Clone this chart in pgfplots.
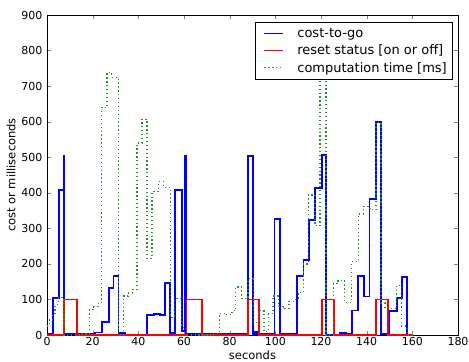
\documentclass[border=0pt]{standalone}
\usepackage{fontspec}
\setmainfont{DejaVu Sans}
\usepackage{pgfplots}
\pgfplotsset{compat=1.18}
\definecolor{mgreen}{rgb}{0,0.5,0}
\pgfplotsset{
  mylegimg/.style={legend image code/.code={\path (0bp,0bp); \draw[##1] plot coordinates {(5bp,0bp) (14.5bp,0bp) (24bp,0bp)};}}
}
\begin{document}
\begin{tikzpicture}[font=\fontsize{11bp}{13bp}\selectfont]
\begin{axis}[
  scale only axis, width=411bp, height=320bp,
  xmin=0, xmax=180, ymin=0, ymax=900,
  xtick={0,20,...,180}, ytick={0,100,...,900},
  tick align=inside, major tick length=4bp,
  xtick pos=both, ytick pos=both,
  /pgf/number format/assume math mode=true,
  tick label style={font=\fontsize{11bp}{13bp}\selectfont},
  xticklabel style={yshift=1bp},
  yticklabel style={xshift=-1bp},
  xlabel={seconds}, ylabel={cost or milliseconds},
  label style={font=\fontsize{11.5bp}{13bp}\selectfont},
  xlabel style={yshift=2bp},
  ylabel style={yshift=-1bp},
  legend style={at={(1,1)}, anchor=north east, xshift=-6bp, yshift=-7bp,
    draw=black, font=\fontsize{13bp}{15bp}\selectfont, row sep=2bp,
    inner xsep=3bp, inner ysep=4bp,
    /tikz/every odd column/.append style={column sep=11bp}},
  mylegimg,
  legend cell align=left,
  const plot,
]
\coordinate (SW) at (rel axis cs:0,0);
\coordinate (NE) at (rel axis cs:1,1);
\addplot[blue, line width=1.8bp, mark=none] coordinates {
(0,3) (2.5,104) (5.1,407) (7.3,503) (7.6,0) (8,3) (21.1,7) (24.1,36) (27,133) (29.1,166) (31.3,5) (34.3,1) (43.8,57) (46.7,60) (49.6,57) (51.8,147) (54,5) (56.2,407) (59.1,12) (60.6,503) (60.9,2) (88,503) (90.3,2) (91,8) (92,2) (99.6,327) (102,3) (109.4,166) (112.3,210) (114.9,324) (117.4,413) (120.3,506) (122.2,1) (128.3,6) (131,3) (133.7,69) (136.3,166) (139,108) (141.2,382) (144.1,598) (146.3,2) (149.9,67) (153.2,104) (155.4,163) (157.8,1) (160,1)
};
\addlegendentry{cost-to-go}
\addplot[red, line width=1.8bp, mark=none] coordinates {
(0,0) (7.5,100) (13,0) (61.1,100) (67.8,0) (88,100) (92.9,0) (120.3,100) (125.8,0) (144.1,100) (149.5,0) (160,0)
};
\addlegendentry{reset status [on or off]}
\addplot[mgreen!85!white, line width=1.3bp, dash pattern=on 1.3bp off 2.6bp, mark=none] coordinates {
(0,25) (1,42) (2.5,60) (3.5,85) (5,105) (7.5,0) (15,3) (18.6,71) (20.5,80) (22.5,92) (24,640) (26.3,738) (28.4,725) (31.3,0) (33.5,110) (35.5,118) (37.5,128) (39.4,540) (41.6,607) (43.8,215) (46,404) (48.9,432) (51,415) (54,50) (55.9,102) (59,22) (61.2,0) (72.9,4) (75.4,61) (78,57) (81,68) (82.7,135) (85.3,102) (88,158) (90.4,35) (92.5,68) (95,10) (97,60) (99,110) (101.4,80) (103.5,75) (106,95) (108,100) (110,120) (112.3,200) (114.5,394) (117.4,307) (119.6,820) (122.2,0) (125.4,144) (127.5,154) (130.2,92) (133.5,206) (136.4,340) (138.5,361) (141.5,352) (144.1,598) (146.3,90) (148,75) (153.2,140) (155.2,25) (157.8,0) (160,0)
};
\addlegendentry{computation time [ms]}
\end{axis}
\pgfresetboundingbox
\path ([shift={(-47bp,-27bp)}]SW) rectangle ([shift={(11bp,15bp)}]NE);
\end{tikzpicture}
\end{document}
